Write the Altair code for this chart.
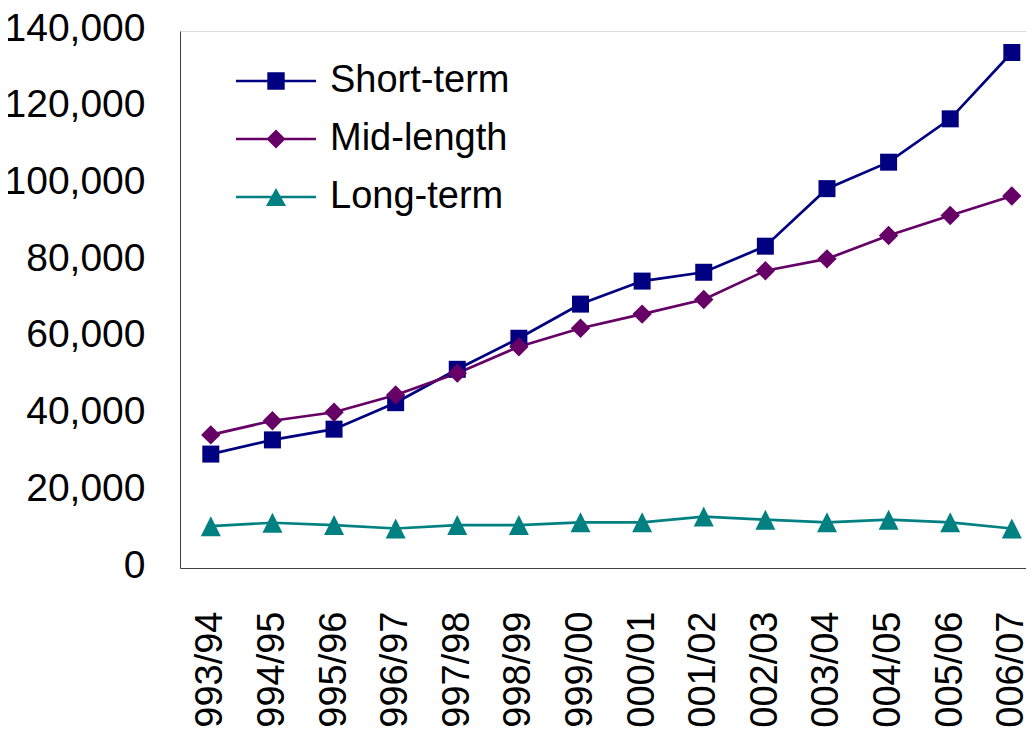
import altair as alt
import pandas as pd

years = ["1993/94", "1994/95", "1995/96", "1996/97", "1997/98", "1998/99", "1999/00",
         "2000/01", "2001/02", "2002/03", "2003/04", "2004/05", "2005/06", "2006/07"]
short_term = [29700, 33400, 36200, 43100, 51800, 59900, 68800, 74800, 77100, 83900,
              98900, 105800, 117100, 134400]
mid_length = [34700, 38400, 40600, 45100, 50800, 57700, 62500, 66200, 70000, 77500,
              80600, 86700, 91900, 97000]
long_term = [10900, 11800, 11200, 10300, 11200, 11200, 11900, 11900, 13400, 12600,
             11900, 12600, 11900, 10300]
y_ticks = [0, 20000, 40000, 60000, 80000, 100000, 120000, 140000]

series_names = ["Short-term", "Mid-length", "Long-term"]
series_colors = ["#000080", "#660066", "#008080"]
marker_paths = ["M-0.85,-0.85H0.85V0.85H-0.85Z",
                "M0,-0.97L0.97,0L0,0.97L-0.97,0Z",
                "M0,-1L1,1L-1,1Z"]
legend_line = "M-1.38,-0.045H1.38V0.045H-1.38Z "
legend_paths = [legend_line + "M-0.3,-0.3H0.3V0.3H-0.3Z",
                legend_line + "M0,-0.33L0.33,0L0,0.33L-0.33,0Z",
                legend_line + "M0,-0.31L0.345,0.31H-0.345Z"]

rows = []
for name, vals in zip(series_names, [short_term, mid_length, long_term]):
    for i, (yr, v) in enumerate(zip(years, vals)):
        rows.append({"idx": i, "year": yr, "series": name, "value": v})
df = pd.DataFrame(rows)

FONT = "Liberation Sans Narrow, Arial Narrow, Liberation Sans, Arial, sans-serif"
label_expr = "[" + ",".join("'%s'" % y for y in years) + "][datum.value]"

x = alt.X(
    "idx:Q",
    scale=alt.Scale(domain=[-0.5, 13.23], nice=False, zero=False),
    axis=alt.Axis(values=list(range(len(years))), labelExpr=label_expr, labelAngle=270,
                  labelAlign="right", labelBaseline="middle", labelPadding=43,
                  ticks=False, grid=False, domainColor="#404040", domainWidth=1,
                  labelFont=FONT, labelFontSize=38, labelColor="black", title=None,
                  labelFlush=False, labelOverlap=False, labelLimit=400),
)
y = alt.Y(
    "value:Q",
    scale=alt.Scale(domain=[0, 140000], nice=False),
    axis=alt.Axis(values=y_ticks, format=",.0f", ticks=False, grid=False, labelPadding=35,
                  domainColor="#404040", domainWidth=1, labelFont=FONT, labelFontSize=39,
                  labelColor="black", title=None, labelLimit=400, labelOffset=-3),
)
color_scale = alt.Scale(domain=series_names, range=series_colors)

leg = alt.Legend(
    orient="none", legendX=67, legendY=21, title=None, padding=0, rowPadding=10,
    labelFont=FONT, labelFontSize=38, labelColor="black", labelOffset=25,
    labelLimit=400, symbolStrokeWidth=0, symbolSize=3364, symbolOpacity=1,
)
legend_layer = alt.Chart(df).transform_filter("false").mark_point(
    filled=True, opacity=1, size=3364, strokeWidth=0
).encode(
    x=x, y=y,
    color=alt.Color("series:N", scale=color_scale, legend=leg),
    shape=alt.Shape("series:N", scale=alt.Scale(domain=series_names, range=legend_paths), legend=leg),
)

lines = alt.Chart(df).mark_line(strokeWidth=2.7).encode(
    x=x, y=y,
    color=alt.Color("series:N", scale=color_scale),
    order="idx:Q",
)

marker_layers = []
for name, path in zip(series_names, marker_paths):
    marker_layers.append(
        alt.Chart(df).transform_filter(alt.datum.series == name)
        .mark_point(filled=True, opacity=1, size=400, strokeWidth=0, shape=path)
        .encode(x=x, y=y, color=alt.Color("series:N", scale=color_scale))
    )

chart = alt.layer(legend_layer, lines, *marker_layers).properties(
    width=846, height=537,
    autosize=alt.AutoSizeParams(type="none"),
    padding={"left": 172, "top": 23, "right": 0, "bottom": 160},
).configure_view(stroke=None).configure(font=FONT)

chart.save("out.html", embed_options={"renderer": "svg", "actions": False})
